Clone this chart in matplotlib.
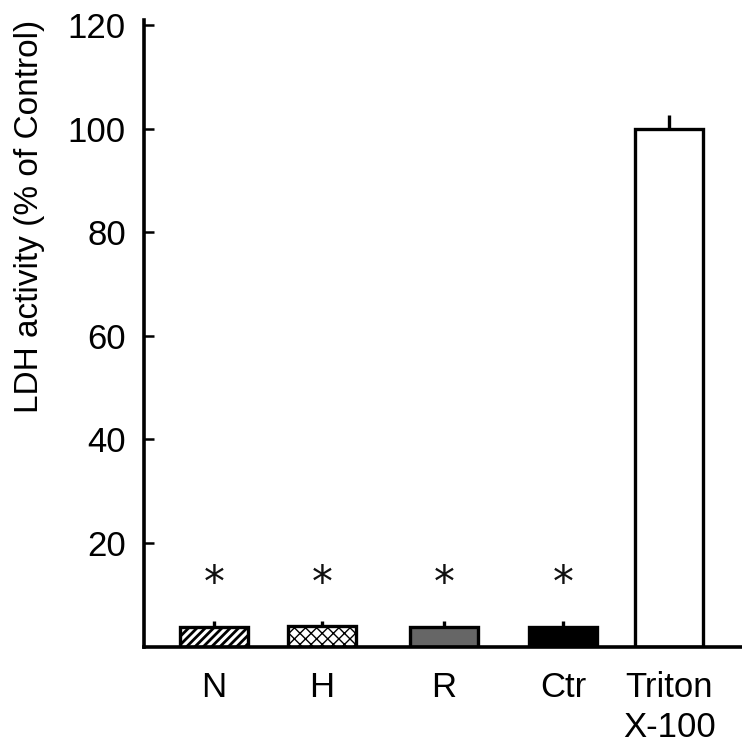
import matplotlib
matplotlib.use("Agg")
import matplotlib.pyplot as plt

categories = ["N", "H", "R", "Ctr", "Triton\nX-100"]
values = [3.7, 4.0, 3.8, 3.8, 100.0]
errors = [1.2, 1.0, 1.2, 1.2, 2.6]
significant = [True, True, True, True, False]

positions = [0, 0.95, 2.02, 3.07, 4.0]
facecolors = ["white", "white", "#666666", "black", "white"]
hatches = ["////", "xxx", None, None, None]

plt.rcParams['font.family'] = ['Liberation Sans', 'DejaVu Sans']

fig = plt.figure(figsize=(7.42, 7.49), dpi=100)
ax = fig.add_axes([144/742, (749-646.5)/749, 1-144/742, (646.5-20)/749])

for i, (x, v, e) in enumerate(zip(positions, values, errors)):
    if hatches[i] == "xxx":
        plt.rcParams['hatch.color'] = '#555555'
        plt.rcParams['hatch.linewidth'] = 1.0
    else:
        plt.rcParams['hatch.color'] = 'black'
        plt.rcParams['hatch.linewidth'] = 2.0
    ax.bar(x, v, width=0.6, color=facecolors[i], edgecolor="black",
           linewidth=2.4, hatch=hatches[i], zorder=2)
    ax.plot([x, x], [v, v + e], color="black", lw=2.4, zorder=1,
            solid_capstyle="butt")
    if significant[i]:
        ax.text(x, 12.0, "*", ha="center", va="center", fontsize=30,
                family="DejaVu Sans", color="#111111")

ax.set_xlim(-0.615, 4.64)
ax.set_ylim(0, 121)
ax.set_yticks([20, 40, 60, 80, 100, 120])
ax.set_xticks(positions)
ax.set_xticklabels(categories, fontsize=25, linespacing=1.27, va="top")
ax.tick_params(axis="x", length=0, pad=17.5)
ax.tick_params(axis="y", direction="in", length=7, width=1.8, labelsize=25, pad=13)
for lbl in ax.get_xticklabels():
    lbl.set_ha("center")
for s in ["top", "right"]:
    ax.spines[s].set_visible(False)
for s in ["left", "bottom"]:
    ax.spines[s].set_linewidth(2.6)
fig.text(30/742, 1 - 216/749, "LDH activity (% of Control)", fontsize=24,
         rotation=90, ha="center", va="center")

fig.savefig("out.png", dpi=100)
